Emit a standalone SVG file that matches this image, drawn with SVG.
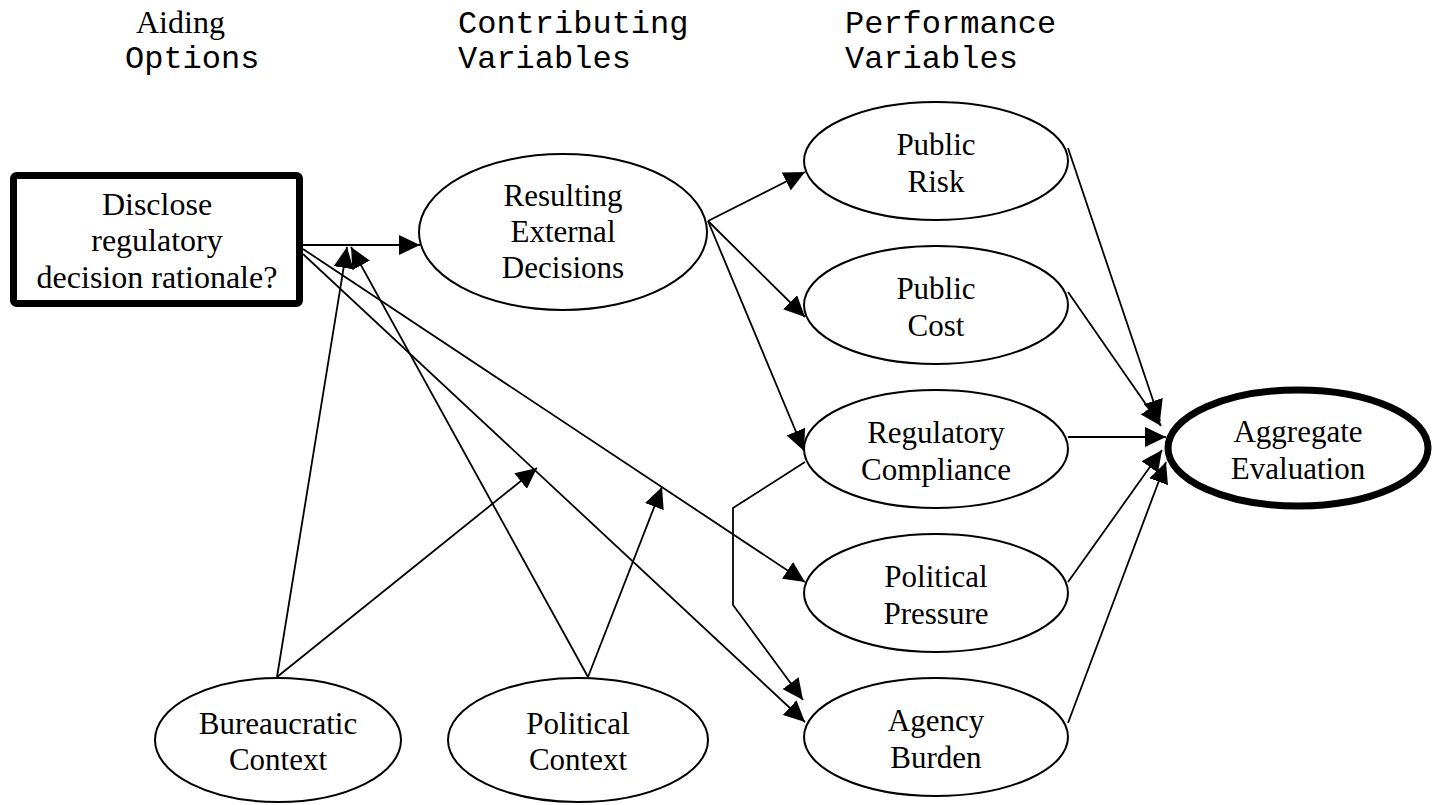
<svg xmlns="http://www.w3.org/2000/svg" width="1442" height="805" viewBox="0 0 1442 805">
<style>
.bg{fill:#fff}
.node{fill:#fff;stroke:#000;stroke-width:2}
.thick{fill:#fff;stroke:#000;stroke-width:7}
.t{font-family:"Liberation Serif","Times New Roman",serif;font-size:31px;fill:#000;text-anchor:middle}
.tb{font-family:"Liberation Serif","Times New Roman",serif;font-size:32px;fill:#000;text-anchor:middle}
.h{font-family:"Liberation Serif","Times New Roman",serif;font-size:32px;fill:#000}
.m{font-family:"Liberation Mono","Courier New",monospace;font-size:32px;fill:#000}
.c{fill:none;stroke:#000;stroke-width:1.8}
.a{marker-end:url(#arr)}
</style>
<defs>
<marker id="arr" markerUnits="userSpaceOnUse" viewBox="0 0 21 20" markerWidth="21" markerHeight="20" refX="21" refY="10" orient="auto">
<path d="M0,0 L21,10 L0,20 Z" fill="#000"/>
</marker>
</defs>
<rect class="bg" x="0" y="0" width="1442" height="805"/>
<g id="headers">
<text class="h" x="136" y="33">Aiding</text>
<text class="m" x="125" y="68">Options</text>
<text class="m" x="458" y="33">Contributing</text>
<text class="m" x="458" y="68">Variables</text>
<text class="m" x="845" y="33">Performance</text>
<text class="m" x="845" y="68">Variables</text>
</g>
<g id="connectors">
<path class="c a" d="M303,245 L420,245"/>
<path class="c a" d="M303,249 L805,582"/>
<path class="c a" d="M303,254 L805,722"/>
<path class="c a" d="M277,677 L347,247"/>
<path class="c a" d="M277,677 L537,468"/>
<path class="c a" d="M588,677 L351,247"/>
<path class="c a" d="M588,677 L662,487"/>
<path class="c a" d="M708,221 L805,172"/>
<path class="c a" d="M708,221 L805,317"/>
<path class="c a" d="M708,221 L804,451"/>
<path class="c a" d="M805,462 L733,508 L733,605 L803,700"/>
<path class="c a" d="M1068,148 L1160,421"/>
<path class="c a" d="M1068,292 L1161,426"/>
<path class="c a" d="M1068,437 L1166,437"/>
<path class="c a" d="M1068,582 L1162,450"/>
<path class="c a" d="M1068,723 L1166,462"/>
</g>
<g id="n-disclose">
<rect class="thick" x="13.5" y="175.5" width="286" height="128" rx="3"/>
<text class="tb" x="157" y="215">Disclose</text>
<text class="tb" x="157" y="251">regulatory</text>
<text class="tb" x="157" y="288">decision rationale?</text>
</g>
<g id="n-resulting">
<ellipse class="node" cx="563" cy="232" rx="144" ry="78"/>
<text class="t" x="563" y="206">Resulting</text>
<text class="t" x="563" y="242">External</text>
<text class="t" x="563" y="278">Decisions</text>
</g>
<g id="n-risk">
<ellipse class="node" cx="936" cy="161" rx="132" ry="59"/>
<text class="t" x="936" y="155">Public</text>
<text class="t" x="936" y="192">Risk</text>
</g>
<g id="n-cost">
<ellipse class="node" cx="936" cy="305" rx="132" ry="59"/>
<text class="t" x="936" y="299">Public</text>
<text class="t" x="936" y="336">Cost</text>
</g>
<g id="n-compliance">
<ellipse class="node" cx="936" cy="449" rx="132" ry="59"/>
<text class="t" x="936" y="443">Regulatory</text>
<text class="t" x="936" y="480">Compliance</text>
</g>
<g id="n-pressure">
<ellipse class="node" cx="936" cy="593" rx="132" ry="59"/>
<text class="t" x="936" y="587">Political</text>
<text class="t" x="936" y="624">Pressure</text>
</g>
<g id="n-burden">
<ellipse class="node" cx="936" cy="737" rx="132" ry="59"/>
<text class="t" x="936" y="731">Agency</text>
<text class="t" x="936" y="768">Burden</text>
</g>
<g id="n-aggregate">
<ellipse class="thick" cx="1298" cy="448" rx="130" ry="58"/>
<text class="t" x="1298" y="442">Aggregate</text>
<text class="t" x="1298" y="479">Evaluation</text>
</g>
<g id="n-bureaucratic">
<ellipse class="node" cx="278" cy="740" rx="123" ry="62"/>
<text class="t" x="278" y="734">Bureaucratic</text>
<text class="t" x="278" y="770">Context</text>
</g>
<g id="n-political">
<ellipse class="node" cx="578" cy="740" rx="130" ry="62"/>
<text class="t" x="578" y="734">Political</text>
<text class="t" x="578" y="770">Context</text>
</g>
</svg>
